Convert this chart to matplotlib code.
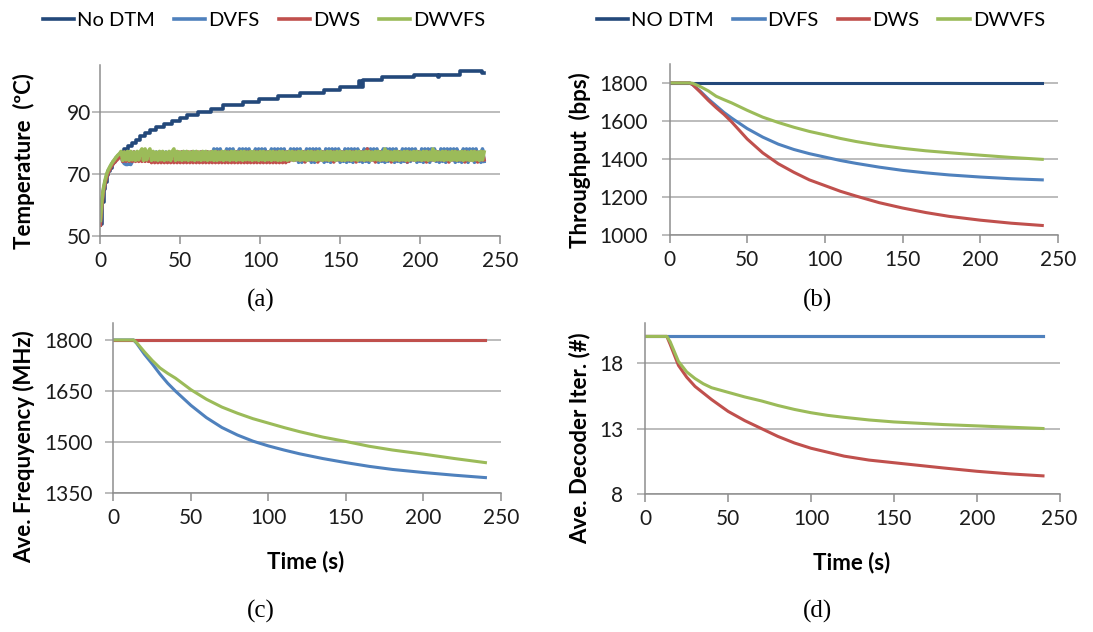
import numpy as np
import matplotlib
matplotlib.use("Agg")
import matplotlib.pyplot as plt

plt.rcParams["font.family"] = ["Lato", "DejaVu Sans"]

# ---------------- series labels and colours ----------------
series_a = ["No DTM", "DVFS", "DWS", "DWVFS"]
series_b = ["NO DTM", "DVFS", "DWS", "DWVFS"]
C_NODTM = "#23487A"
C_DVFS = "#4F81BD"
C_DWS = "#C0504D"
C_DWVFS = "#9BBB59"
GRID_GREY = "#A9A9A9"
AXIS_GREY = "#8E8E8E"
TEXT = "#1C1C1C"

# ---------------- (a) temperature, 1 s samples ----------------
temp_time = np.arange(0, 241)

nodtm_step_time = [0, 1, 2, 3, 4, 5, 6, 7, 8, 9, 10, 11, 12, 13, 15, 17, 20, 22, 25, 28,
                   31, 35, 40, 45, 50, 54, 61, 69, 77, 89, 99, 111, 125, 140, 150, 162,
                   163, 164, 176, 196, 211, 212, 225, 239, 240]
nodtm_step_temp = [54, 61, 65, 67.5, 69.5, 71, 72, 73, 73.8, 74.5, 75.2, 75.8, 76.3, 77,
                   78, 79, 80, 81, 82, 83, 84, 85, 86, 87, 88, 89, 90, 91, 92, 93, 94, 95,
                   96, 97, 98, 100, 97.8, 100.3, 101.2, 101.8, 101.2, 101.8, 103, 102.4, 102.4]

dvfs_temp = [
    54, 61, 65, 67.5, 69.5, 71, 72, 73, 73.8, 74.5, 75.2, 75.8, 76.3,
    76.5, 74, 73.3, 73, 73, 73.3, 73, 74, 77, 74.5, 77, 74.5, 77, 74.5, 76.5, 74.5, 77, 74.5, 76, 74.5,
    77, 74.5, 77, 74.5, 76.5, 74.5, 77, 74.5, 77, 74.5, 76, 74.5, 77, 74.5, 77, 74.5, 76.5, 74.5, 77, 74.5,
    77, 74.5, 76.5, 74.5, 77, 74.5, 77, 74.5, 76, 74.5, 77, 74.5, 77, 74.5, 77, 74.5, 76.5, 74.5, 78, 74.5,
    78, 74.5, 78, 74.5, 77, 74.5, 78, 74.5, 78, 74.5, 78, 74.5, 77, 74.5, 78, 74.5, 78, 74.5, 78, 74.5,
    78, 74.5, 77, 74.5, 78, 74.5, 78, 74.5, 78, 74.5, 78, 74.5, 77, 74.5, 78, 74.5, 78, 74.5, 78, 74.5,
    78, 74.5, 78, 74.5, 77, 74.5, 78, 74.5, 78, 74.5, 78, 73.7, 78, 73.7, 77, 74, 78, 74.5, 78, 73.7,
    78, 73.7, 78, 74, 78, 74.5, 77, 73.7, 78, 74, 78, 73.7, 78, 74, 78, 74.5, 78, 73.7, 77, 74,
    78, 73.7, 78, 74, 78, 73.7, 78, 74.5, 78, 74, 77, 73.7, 78, 74, 78, 73.7, 78, 74.5, 78, 74,
    78, 73.7, 77, 74, 78, 73.7, 78, 74, 78, 74.5, 78, 73.7, 78, 74, 77, 73.7, 78, 74, 78, 73.7,
    78, 74, 78, 74.5, 78, 73.7, 77, 74, 78, 73.7, 78, 74, 78, 73.7, 78, 74.5, 78, 74, 77, 73.7,
    78, 74, 78, 73.7, 78, 74, 78, 74.5, 78, 73.7, 78, 74, 77, 73.7, 78, 74, 78, 73.7, 78, 74.5,
    78, 73.7, 78, 74, 77, 73.7, 78, 74,
]

dws_temp = [
    53.5, 60, 64.5, 67, 69, 70.5, 71.5, 72.5, 73.2, 73.8, 74.3, 74.8, 75.5,
    76, 74, 77, 74, 76.5, 74, 77, 74, 77, 74, 76, 74, 77, 74, 77, 74, 76.5, 74, 77, 73.6,
    77, 73.6, 76, 73.6, 77, 73.6, 77, 73.6, 76.5, 73.6, 77, 73.6, 77, 73.6, 76, 73.6, 77, 73.6, 77, 73.6,
    76.5, 73.6, 77, 73.6, 77, 73.6, 76, 73.6, 77, 73.6, 77, 73.6, 76.5, 73.6, 77, 73.6, 77, 73.6, 76, 73.6,
    77, 73.6, 77, 73.6, 76.5, 73.6, 77, 73.6, 77, 73.6, 76, 73.6, 77, 73.6, 77, 73.6, 76.5, 73.6, 77, 73.6,
    77, 73.6, 76, 73.6, 77, 73.6, 77, 73.6, 76.5, 73.6, 77, 73.6, 77, 73.6, 76, 73.6, 77, 73.6, 77, 73.6,
    76.5, 73.6, 77, 73.6, 77, 74, 76, 74.5, 77, 74.5, 77, 74.5, 76.5, 74.5, 77, 73.8, 77, 74.5, 76, 74.5,
    77, 74.5, 77, 73.8, 76.5, 74.5, 77, 74.5, 77, 74.5, 76, 74.5, 77, 73.8, 77, 74.5, 76.5, 74.5, 77, 74.5,
    77, 74.5, 76, 74.5, 77, 74.5, 77, 73.8, 76.5, 74.5, 77, 74.5, 77, 74.5, 78, 74.5, 77, 74.5, 76.5, 73.8,
    77, 74.5, 77, 74.5, 76, 74.5, 77, 74.5, 77, 73.8, 76.5, 74.5, 77, 74.5, 77, 74.5, 76, 74.5, 77, 73.8,
    77, 74.5, 76.5, 74.5, 77, 74.5, 77, 74.5, 76, 74.5, 77, 73.8, 77, 74.5, 76.5, 74.5, 77, 74.5, 77, 74.5,
    76, 74.5, 77, 74.5, 77, 73.8, 76.5, 74.5, 77, 74.5, 77, 74.5, 76, 74.5, 77, 73.8, 77, 74.5, 76.5, 74.5,
    77, 74.5, 77, 73.8, 76, 74.5, 77, 74.5,
]

dwvfs_temp = [
    55, 61.5, 65.5, 68, 70, 71.3, 72.3, 73.2, 74, 74.7, 75.4, 76, 76.5,
    77.2, 74.3, 77, 74.5, 77.2, 74.3, 77.2, 74.5, 77, 74.3, 77.2, 74.5, 77.2, 78, 74.3, 78, 74.5, 77.2, 78, 74.3,
    77.2, 74.5, 77, 74.3, 77.2, 74.5, 77.2, 74.3, 77, 74.5, 77.2, 74.3, 77.2, 78, 74.3, 77.2, 74.5, 77, 74.3, 77.2,
    74.5, 77.2, 74.3, 77, 74.5, 77.2, 74.3, 77.2, 74.5, 77, 74.3, 77.2, 74.5, 77.2, 74.3, 77, 74.5, 77.2, 74.3, 77.2,
    74.3, 77, 74.5, 77.2, 74.3, 77.2, 74.5, 77, 74.3, 77.2, 74.5, 77.2, 74.3, 77, 74.5, 77.2, 74.3, 77.2, 74.5, 77,
    74.5, 77.2, 74.3, 77.2, 74.5, 77, 74.3, 77.2, 74.5, 77.2, 74.3, 77, 74.5, 77.2, 74.3, 77.2, 74.5, 77, 74.3, 77.2,
    74.3, 77.2, 74.5, 77, 74.3, 77.2, 74.5, 77.2, 74.3, 77, 74.5, 77.2, 74.3, 77.2, 74.5, 77, 74.3, 77.2, 74.5, 77.2,
    74.5, 77, 74.3, 77.2, 74.5, 77.2, 74.3, 77, 74.5, 77.2, 74.3, 77.2, 74.5, 77, 74.3, 77.2, 74.5, 77.2, 74.3, 77,
    74.3, 77.2, 74.5, 77.2, 74.3, 77, 74.5, 77.2, 74.3, 77.2, 74.5, 77, 74.3, 77.2, 74.5, 77.2, 74.3, 77, 74.5, 77.2,
    74.5, 77.2, 74.3, 77, 74.5, 78, 74.3, 77.2, 74.5, 77, 74.3, 77.2, 74.5, 77.2, 74.3, 77, 74.5, 77.2, 74.3, 77.2,
    74.3, 77, 74.5, 77.2, 74.3, 77.2, 74.5, 77, 74.3, 77.2, 74.5, 77.2, 74.3, 77, 74.5, 78, 74.3, 77.2, 74.5, 77,
    74.5, 77.2, 74.3, 77.2, 74.5, 77, 74.3, 77.2, 74.5, 77.2, 74.3, 77, 74.5, 77.2, 74.3, 77.2, 74.5, 77, 74.3, 77.2,
    74.3, 77.2, 74.5, 77, 74.3, 77.2, 74.5, 77,
]

# ---------------- (b)-(d) sampled every few seconds ----------------
time_s = [0, 13, 15, 20, 25, 30, 35, 40, 50, 60, 70, 80, 90, 100, 110, 120, 135, 150,
          165, 180, 200, 220, 240]

nodtm_tput = [1800] * len(time_s)
dvfs_tput = [1800, 1800, 1790, 1755, 1715, 1680, 1645, 1615, 1560, 1515, 1478, 1450, 1428,
             1410, 1392, 1377, 1357, 1340, 1327, 1316, 1305, 1296, 1290]
dws_tput = [1800, 1800, 1790, 1750, 1708, 1670, 1635, 1595, 1505, 1432, 1375, 1330, 1290,
            1260, 1230, 1205, 1170, 1142, 1118, 1098, 1078, 1062, 1050]
dwvfs_tput = [1800, 1800, 1798, 1780, 1758, 1730, 1712, 1695, 1656, 1620, 1592, 1567, 1545,
              1527, 1508, 1492, 1472, 1456, 1443, 1433, 1420, 1408, 1398]

nodtm_freq = [1800] * len(time_s)
dvfs_freq = [1800, 1800, 1790, 1758, 1730, 1700, 1673, 1650, 1608, 1572, 1543, 1521, 1503,
             1489, 1477, 1466, 1452, 1440, 1429, 1420, 1411, 1403, 1396]
dws_freq = [1800] * len(time_s)
dwvfs_freq = [1800, 1800, 1792, 1765, 1740, 1718, 1702, 1688, 1654, 1626, 1603, 1585, 1569,
              1556, 1543, 1531, 1515, 1502, 1488, 1477, 1465, 1452, 1440]

nodtm_iter = [20] * len(time_s)
dvfs_iter = [20] * len(time_s)
dws_iter = [20, 20, 19.4, 17.8, 16.9, 16.2, 15.7, 15.2, 14.3, 13.6, 13.0, 12.4, 11.9, 11.5,
            11.2, 10.9, 10.6, 10.4, 10.2, 10.0, 9.75, 9.55, 9.4]
dwvfs_iter = [20, 20, 19.6, 18.1, 17.3, 16.8, 16.4, 16.1, 15.75, 15.4, 15.1, 14.75, 14.45,
              14.2, 14.0, 13.85, 13.65, 13.5, 13.4, 13.3, 13.2, 13.1, 13.0]

x_ticks = [0, 50, 100, 150, 200, 250]
yticks_a = [50, 70, 90]
yticks_b = [1000, 1200, 1400, 1600, 1800]
yticks_c = [1350, 1500, 1650, 1800]
yticks_d = [8, 13, 18]

LW = 2.2
LW_TEMP = 2.6
fig = plt.figure(figsize=(10.93, 6.32), dpi=100)

ax_a = fig.add_axes([0.0918, 0.6266, 0.3657, 0.2706])
ax_b = fig.add_axes([0.6126, 0.6282, 0.3552, 0.2706])
ax_c = fig.add_axes([0.1038, 0.2195, 0.3545, 0.2695])
ax_d = fig.add_axes([0.5904, 0.2179, 0.3790, 0.2706])


def style(ax, ylim, yticks, ypad):
    ax.set_xlim(0, 250)
    ax.set_ylim(*ylim)
    ax.set_xticks(x_ticks)
    ax.set_yticks(yticks)
    for s in ("top", "right"):
        ax.spines[s].set_visible(False)
    for s in ("left", "bottom"):
        ax.spines[s].set_color(AXIS_GREY)
        ax.spines[s].set_linewidth(1.1)
    ax.grid(axis="y", color=GRID_GREY, linewidth=1.1)
    ax.set_axisbelow(True)
    ax.tick_params(axis="x", direction="out", length=5.8, width=1.1, color=AXIS_GREY,
                   pad=5, labelsize=15, labelcolor=TEXT)
    ax.tick_params(axis="y", direction="out", length=5.8, width=1.1, color=GRID_GREY,
                   pad=ypad, labelsize=15, labelcolor=TEXT)


def ylabel(ax, text, x, y):
    ax.set_ylabel(text, fontsize=16, fontweight="bold", color="black", va="center")
    ax.yaxis.set_label_coords(x, y)


# (a) temperature
ax_a.step(nodtm_step_time, nodtm_step_temp, where="post", color=C_NODTM, lw=LW_TEMP,
          label=series_a[0])
ax_a.plot(temp_time, dvfs_temp, color=C_DVFS, lw=LW_TEMP, label=series_a[1])
ax_a.plot(temp_time, dws_temp, color=C_DWS, lw=LW_TEMP, label=series_a[2])
ax_a.plot(temp_time, dwvfs_temp, color=C_DWVFS, lw=LW_TEMP, label=series_a[3])
style(ax_a, (50, 105), yticks_a, 1)
ylabel(ax_a, "Temperature  (ºC)", -0.191, 0.439)

# (b) throughput
ax_b.plot(time_s, nodtm_tput, color=C_NODTM, lw=LW, label=series_b[0])
ax_b.plot(time_s, dvfs_tput, color=C_DVFS, lw=LW, label=series_b[1])
ax_b.plot(time_s, dws_tput, color=C_DWS, lw=LW, label=series_b[2])
ax_b.plot(time_s, dwvfs_tput, color=C_DWVFS, lw=LW, label=series_b[3])
style(ax_b, (1000, 1900), yticks_b, 10)
ylabel(ax_b, "Throughput  (bps)", -0.232, 0.439)

# (c) average frequency
ax_c.plot(time_s, nodtm_freq, color=C_NODTM, lw=LW)
ax_c.plot(time_s, dvfs_freq, color=C_DVFS, lw=LW)
ax_c.plot(time_s, dws_freq, color=C_DWS, lw=LW)
ax_c.plot(time_s, dwvfs_freq, color=C_DWVFS, lw=LW)
style(ax_c, (1350, 1850), yticks_c, 9)
ylabel(ax_c, "Ave. Frequyency (MHz)", -0.231, 0.274)
ax_c.set_xlabel("Time (s)", fontsize=16, fontweight="bold")
ax_c.xaxis.set_label_coords(0.497, -0.403)
ax_c.xaxis.label.set_va("center")

# (d) average decoder iterations
ax_d.plot(time_s, nodtm_iter, color=C_NODTM, lw=LW)
ax_d.plot(time_s, dvfs_iter, color=C_DVFS, lw=LW)
ax_d.plot(time_s, dws_iter, color=C_DWS, lw=LW)
ax_d.plot(time_s, dwvfs_iter, color=C_DWVFS, lw=LW)
style(ax_d, (8, 21), yticks_d, 10)
ylabel(ax_d, "Ave. Decoder Iter. (#)", -0.159, 0.327)
ax_d.set_xlabel("Time (s)", fontsize=16, fontweight="bold")
ax_d.xaxis.set_label_coords(0.497, -0.398)
ax_d.xaxis.label.set_va("center")

# legends above the top row
leg_kw = dict(ncol=4, frameon=False, fontsize=14.5, handlelength=1.55, handletextpad=0.15,
              columnspacing=0.95, loc="center", bbox_transform=fig.transFigure)
for ax, cx in ((ax_a, 264 / 1093), (ax_b, 821 / 1093)):
    leg = ax.legend(bbox_to_anchor=(cx, 0.967), **leg_kw)
    for h in leg.get_lines():
        h.set_linewidth(2.6)

# sub-figure captions
cap_kw = dict(fontsize=18, family=["Liberation Serif", "DejaVu Serif"], ha="center",
              va="center", color="black")
fig.text(261 / 1093, 0.525, "(a)", **cap_kw)
fig.text(818 / 1093, 0.525, "(b)", **cap_kw)
fig.text(261 / 1093, 0.033, "(c)", **cap_kw)
fig.text(818 / 1093, 0.033, "(d)", **cap_kw)

fig.savefig("out.png", dpi=100, facecolor="white")
